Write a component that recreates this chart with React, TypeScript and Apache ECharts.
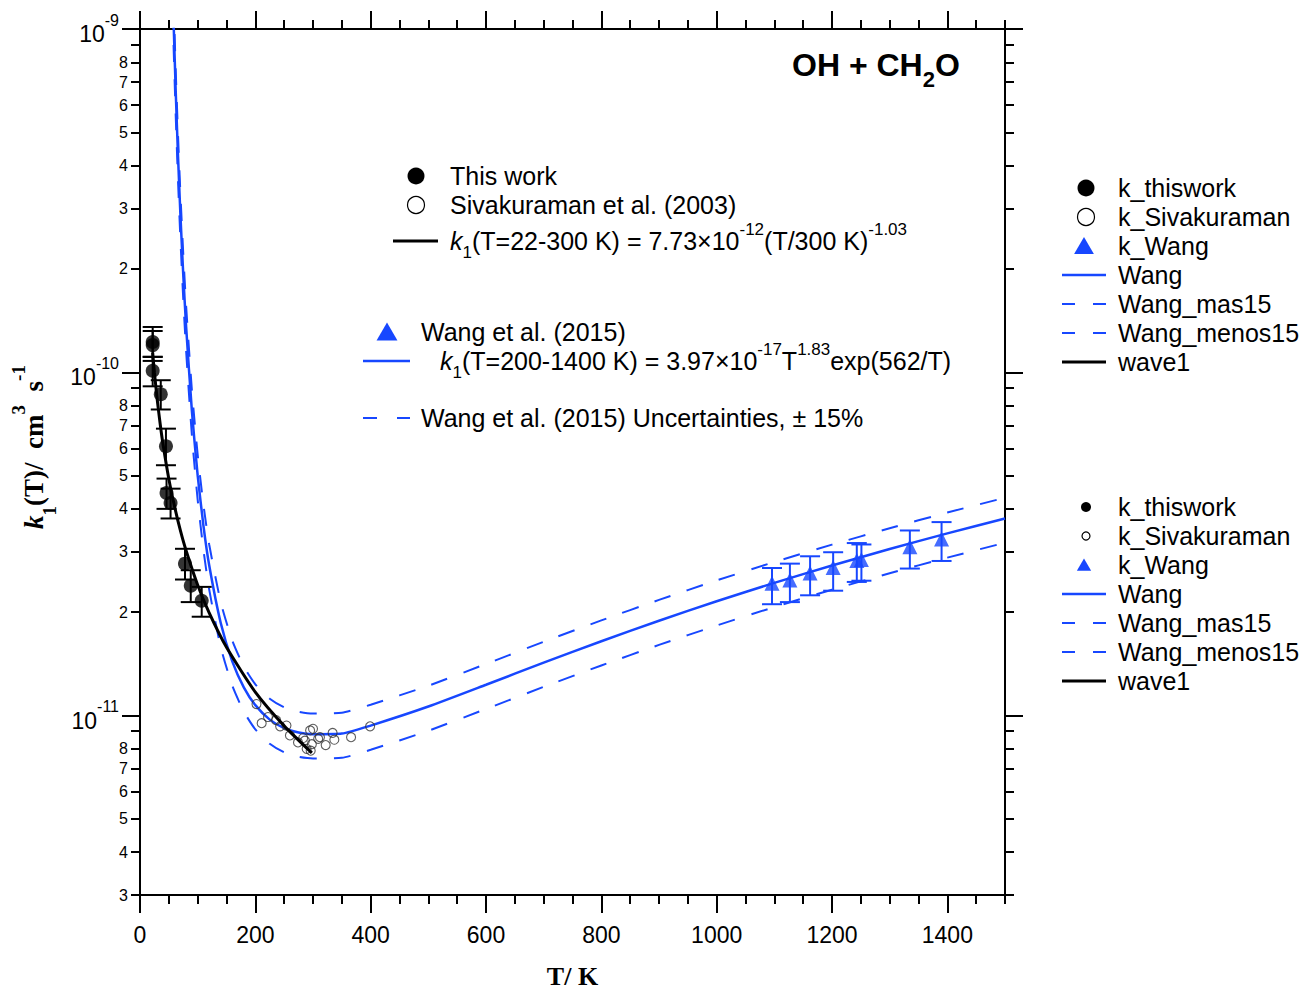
import React, { useEffect, useRef } from 'react';
import * as echarts from 'echarts';

const FONT = '"Liberation Sans", Arial, Helvetica, sans-serif';
const SERIF = '"Liberation Serif", "Times New Roman", serif';
const BLUE = '#1747ff';

// ---- data ----
// This work (filled circles) with error bars
const thisWorkT = [22, 22, 22, 36, 45, 46, 53, 78, 88, 107];
const thisWorkK = [1.225e-10, 1.2e-10, 1.01e-10, 8.63e-11, 6.09e-11, 4.45e-11, 4.16e-11, 2.77e-11, 2.39e-11, 2.16e-11];
const thisWorkHi = [1.355e-10, 1.319e-10, 1.11e-10, 9.48e-11, 6.85e-11, 4.9e-11, 4.58e-11, 3.06e-11, 2.65e-11, 2.37e-11];
const thisWorkLo = [1.108e-10, 1.079e-10, 9.1e-11, 7.79e-11, 5.36e-11, 4.0e-11, 3.75e-11, 2.49e-11, 2.14e-11, 1.94e-11];

// Sivakuraman et al. (2003) (open circles)
const sivaT = [202, 211, 222, 236, 243, 254, 260, 274, 283, 286, 289, 295, 296, 298, 300, 309, 312, 322, 334, 337, 366, 399];
const sivaK = [1.08e-11, 9.5e-12, 9.9e-12, 9.7e-12, 9.3e-12, 9.35e-12, 8.75e-12, 8.35e-12, 8.6e-12, 8.45e-12, 8.0e-12, 9.05e-12, 7.9e-12, 8.25e-12, 9.15e-12, 8.55e-12, 8.65e-12, 8.2e-12, 8.9e-12, 8.5e-12, 8.65e-12, 9.3e-12];

// Wang et al. (2015) (triangles) with error bars
const wangPtT = [1096, 1127, 1162, 1202, 1243, 1251, 1335, 1390];
const wangPtK = [2.43e-11, 2.48e-11, 2.6e-11, 2.7e-11, 2.83e-11, 2.85e-11, 3.1e-11, 3.27e-11];
const wangPtHi = [2.69e-11, 2.77e-11, 2.91e-11, 2.99e-11, 3.18e-11, 3.15e-11, 3.46e-11, 3.66e-11];
const wangPtLo = [2.11e-11, 2.14e-11, 2.24e-11, 2.31e-11, 2.45e-11, 2.47e-11, 2.68e-11, 2.82e-11];

// Wang curve and +/-15% curves
const wangT = [55, 58, 62, 66, 70, 75, 80, 90, 100, 110, 120, 140, 160, 180, 200, 225, 250, 275, 300, 350, 400, 500, 600, 700, 800, 900, 1000, 1100, 1200, 1300, 1400, 1500];
const wangK = [1.665e-9, 1.082e-9, 6.539e-10, 4.233e-10, 2.898e-10, 1.925e-10, 1.356e-10, 7.709e-11, 5.006e-11, 3.576e-11, 2.739e-11, 1.86e-11, 1.438e-11, 1.208e-11, 1.072e-11, 9.729e-12, 9.19e-12, 8.919e-12, 8.821e-12, 8.86e-12, 9.348e-12, 1.062e-11, 1.229e-11, 1.426e-11, 1.646e-11, 1.889e-11, 2.152e-11, 2.435e-11, 2.736e-11, 3.055e-11, 3.393e-11, 3.748e-11];
const wangMas15 = [1.915e-9, 1.244e-9, 7.52e-10, 4.868e-10, 3.333e-10, 2.214e-10, 1.559e-10, 8.865e-11, 5.757e-11, 4.112e-11, 3.15e-11, 2.139e-11, 1.654e-11, 1.389e-11, 1.233e-11, 1.119e-11, 1.057e-11, 1.026e-11, 1.014e-11, 1.019e-11, 1.075e-11, 1.221e-11, 1.413e-11, 1.64e-11, 1.893e-11, 2.172e-11, 2.475e-11, 2.8e-11, 3.146e-11, 3.513e-11, 3.902e-11, 4.31e-11];
const wangMenos15 = [1.415e-9, 9.197e-10, 5.558e-10, 3.598e-10, 2.463e-10, 1.636e-10, 1.153e-10, 6.553e-11, 4.255e-11, 3.04e-11, 2.328e-11, 1.581e-11, 1.222e-11, 1.027e-11, 9.112e-12, 8.27e-12, 7.812e-12, 7.581e-12, 7.498e-12, 7.531e-12, 7.946e-12, 9.027e-12, 1.045e-11, 1.212e-11, 1.399e-11, 1.606e-11, 1.829e-11, 2.07e-11, 2.326e-11, 2.597e-11, 2.884e-11, 3.186e-11];

// wave1 (black fit line)
const wave1T = [22, 25, 30, 35, 40, 50, 60, 70, 80, 100, 120, 150, 200, 250, 298];
const wave1K = [1.14e-10, 9.99e-11, 8.29e-11, 7.07e-11, 6.16e-11, 4.89e-11, 4.06e-11, 3.46e-11, 3.02e-11, 2.4e-11, 1.99e-11, 1.58e-11, 1.17e-11, 9.33e-12, 7.78e-12];

// axis ticks
const xMajorTicks = [0, 200, 400, 600, 800, 1000, 1200, 1400];
const yDecades = [-12, -11, -10];
const yMantissas = [2, 3, 4, 5, 6, 7, 8, 9];
const yMajorTicks = [1e-11, 1e-10, 1e-9];
const Y_MIN = 3e-12;
const Y_MAX = 1e-9;

const seriesNames = ['k_thiswork', 'k_Sivakuraman', 'k_Wang', 'Wang', 'Wang_mas15', 'Wang_menos15', 'wave1'];

const yMinorTicks: number[] = [];
yDecades.forEach((e) => yMantissas.forEach((m) => {
  const v = parseFloat(`${m}e${e}`);
  if (v >= Y_MIN && v < Y_MAX) yMinorTicks.push(v);
}));
const yMinorLabelTicks = yMinorTicks.filter((v) => Math.round(v / Math.pow(10, Math.floor(Math.log10(v) + 1e-9))) !== 9);

const zip = (a: number[], b: number[]) => a.map((x, i) => [x, b[i]]);

function errorBarSeries(T: number[], lo: number[], hi: number[], color: string, z: number) {
  return {
    type: 'custom',
    xAxisIndex: 0,
    yAxisIndex: 0,
    silent: true,
    z,
    data: T.map((t, i) => [t, lo[i], hi[i]]),
    encode: { x: 0, y: [1, 2] },
    renderItem: (params: any, api: any) => {
      const x = api.value(0);
      const a = api.coord([x, api.value(2)]);
      const b = api.coord([x, api.value(1)]);
      const w = 10;
      const st = { stroke: color, lineWidth: 2 };
      return {
        type: 'group',
        children: [
          { type: 'line', shape: { x1: a[0], y1: a[1], x2: b[0], y2: b[1] }, style: st },
          { type: 'line', shape: { x1: a[0] - w, y1: a[1], x2: a[0] + w, y2: a[1] }, style: st },
          { type: 'line', shape: { x1: b[0] - w, y1: b[1], x2: b[0] + w, y2: b[1] }, style: st },
        ],
      };
    },
  };
}

// ---- graphic helpers (legends) ----
const dot = (x: number, y: number, r: number, filled: boolean) => ({
  type: 'circle', z: 20, silent: true,
  shape: { cx: x, cy: y, r },
  style: filled ? { fill: '#000' } : { fill: '#fff', stroke: '#000', lineWidth: 1.2 },
});
const tri = (x: number, y: number, s: number) => ({
  type: 'polygon', z: 20, silent: true,
  shape: { points: [[x, y - s * 0.5], [x - s * 0.55, y + s * 0.45], [x + s * 0.55, y + s * 0.45]] },
  style: { fill: BLUE },
});
const seg = (x1: number, x2: number, y: number, color: string, w: number) => ({
  type: 'line', z: 20, silent: true,
  shape: { x1, y1: y, x2, y2: y },
  style: { stroke: color, lineWidth: w },
});
const txt = (x: number, y: number, text: string, size: number, rich?: any) => ({
  type: 'text', z: 20, silent: true, x, y,
  style: {
    text, fontSize: size, fontFamily: FONT, fill: '#000',
    align: 'left', verticalAlign: 'middle', textAlign: 'left', textVerticalAlign: 'middle',
    rich,
  },
});

const formulaRich = {
  n: { fontSize: 25, fontFamily: FONT, color: '#000', lineHeight: 40, verticalAlign: 'middle' },
  i: { fontSize: 25, fontFamily: FONT, fontStyle: 'italic', color: '#000', lineHeight: 40, verticalAlign: 'middle' },
  sup: { fontSize: 17, fontFamily: FONT, color: '#000', lineHeight: 14, verticalAlign: 'top' },
  sub: { fontSize: 17, fontFamily: FONT, color: '#000', lineHeight: 24, verticalAlign: 'bottom' },
};

function rightLegend(rows: number[], small: boolean) {
  const els: any[] = [];
  const sx = 1084;
  els.push(dot(sx + 2, rows[0], small ? 5 : 8.5, true));
  els.push(dot(sx + 2, rows[1], small ? 4 : 8.5, false));
  els.push(tri(sx, rows[2], small ? 13 : 18));
  els.push(seg(1062, 1106, rows[3], BLUE, 2.5));
  els.push(seg(1062, 1075, rows[4], BLUE, 2));
  els.push(seg(1093, 1106, rows[4], BLUE, 2));
  els.push(seg(1062, 1075, rows[5], BLUE, 2));
  els.push(seg(1093, 1106, rows[5], BLUE, 2));
  els.push(seg(1062, 1106, rows[6], '#000', 3));
  seriesNames.forEach((n, i) => els.push(txt(1118, rows[i], n, 25)));
  return els;
}

const graphicEls: any[] = [
  // inner legend, upper block
  dot(416, 176, 8.5, true),
  txt(450, 176, 'This work', 25),
  dot(416, 205, 8.5, false),
  txt(450, 205, 'Sivakuraman et al. (2003)', 25),
  seg(393, 438, 241, '#000', 3),
  txt(450, 241, '{i|k}{sub|1}{n|(T=22-300 K) = 7.73×10}{sup|-12}{n|(T/300 K)}{sup|-1.03}', 25, formulaRich),
  // inner legend, Wang block
  tri(387, 332, 19),
  txt(421, 332, 'Wang et al. (2015)', 25),
  seg(363, 410, 361, BLUE, 2.5),
  txt(440, 361, '{i|k}{sub|1}{n|(T=200-1400 K) = 3.97×10}{sup|-17}{n|T}{sup|1.83}{n|exp(562/T)}', 25, formulaRich),
  seg(363, 377, 418, BLUE, 2),
  seg(397, 410, 418, BLUE, 2),
  txt(421, 418, 'Wang et al. (2015) Uncertainties, ± 15%', 25),
  ...rightLegend([188, 217, 246, 275, 304, 333, 362], false),
  ...rightLegend([507, 536, 565, 594, 623, 652, 681], true),
];

const axisLineStyle = { color: '#000', width: 2 };

const xBase = {
  type: 'value', min: 0, max: 1500,
  splitLine: { show: false },
  minorSplitLine: { show: false },
};
const yBase = {
  type: 'log', logBase: 10, min: Y_MIN, max: Y_MAX,
  splitLine: { show: false },
  minorSplitLine: { show: false },
  minorTick: { show: false },
};

const option: any = {
  animation: false,
  backgroundColor: '#fff',
  title: {
    text: '{a|OH + CH}{s|2}{a|O}',
    left: 792,
    top: 40,
    padding: 0,
    textStyle: {
      rich: {
        a: { fontSize: 32, fontWeight: 'bold', fontFamily: FONT, color: '#000', lineHeight: 50, verticalAlign: 'middle' },
        s: { fontSize: 22, fontWeight: 'bold', fontFamily: FONT, color: '#000', lineHeight: 30, verticalAlign: 'bottom' },
      },
    },
  },
  grid: { left: 140, right: 299, top: 29, bottom: 96, containLabel: false, outerBoundsMode: 'none' },
  xAxis: [
    {
      ...xBase, position: 'bottom',
      axisLine: { show: true, onZero: false, lineStyle: axisLineStyle },
      axisTick: { show: true, inside: false, length: 18, lineStyle: axisLineStyle, customValues: xMajorTicks },
      axisLabel: {
        show: true, customValues: xMajorTicks, margin: 28, fontSize: 23, fontFamily: FONT, color: '#000',
        formatter: (v: number) => String(v),
      },
      name: 'T/ K', nameLocation: 'middle', nameGap: 69,
      nameTextStyle: { fontSize: 26, lineHeight: 24, fontWeight: 'bold', fontFamily: SERIF, color: '#000' },
    },
    {
      ...xBase, position: 'bottom', interval: 50,
      axisLine: { show: false, onZero: false },
      axisTick: { show: true, inside: false, length: 9, lineStyle: axisLineStyle },
      axisLabel: { show: false },
    },
    {
      ...xBase, position: 'top',
      axisLine: { show: true, onZero: false, lineStyle: axisLineStyle },
      axisTick: { show: true, inside: false, length: 18, lineStyle: axisLineStyle, customValues: xMajorTicks },
      axisLabel: { show: false },
    },
    {
      ...xBase, position: 'top', interval: 50,
      axisLine: { show: false, onZero: false },
      axisTick: { show: true, inside: false, length: 9, lineStyle: axisLineStyle },
      axisLabel: { show: false },
    },
  ],
  yAxis: [
    {
      ...yBase, position: 'left',
      axisLine: { show: true, onZero: false, lineStyle: axisLineStyle },
      axisTick: { show: true, inside: false, length: 18, lineStyle: axisLineStyle, customValues: yMajorTicks },
      axisLabel: {
        show: true, customValues: yMajorTicks, margin: 21, padding: [10, 0, 0, 0],
        formatter: (v: number) => `{b|10}{e|${Math.round(Math.log10(v))}}`,
        rich: {
          b: { fontSize: 23, fontFamily: FONT, color: '#000', lineHeight: 44, verticalAlign: 'middle' },
          e: { fontSize: 16, fontFamily: FONT, color: '#000', lineHeight: 14, verticalAlign: 'top' },
        },
      },
      name: '{i|k}{sub|1}{b|(T)/  cm}{sup|3}{b|  s}{sup|-1}',
      nameLocation: 'middle', nameRotate: 90, nameGap: 78,
      nameTextStyle: {
        padding: [0, 0, 0, 30],
        rich: {
          i: { fontSize: 27, fontWeight: 'bold', fontStyle: 'italic', fontFamily: SERIF, color: '#000', lineHeight: 50, verticalAlign: 'middle' },
          b: { fontSize: 27, fontWeight: 'bold', fontFamily: SERIF, color: '#000', lineHeight: 50, verticalAlign: 'middle' },
          sub: { fontSize: 19, fontWeight: 'bold', fontFamily: SERIF, color: '#000', lineHeight: 30, verticalAlign: 'bottom' },
          sup: { fontSize: 19, fontWeight: 'bold', fontFamily: SERIF, color: '#000', lineHeight: 16, verticalAlign: 'top' },
        },
      },
    },
    {
      ...yBase, position: 'left',
      axisLine: { show: false, onZero: false },
      axisTick: { show: true, inside: false, length: 9, lineStyle: axisLineStyle, customValues: yMinorTicks },
      axisLabel: {
        show: true, customValues: yMinorLabelTicks, margin: 12, fontSize: 16, fontFamily: FONT, color: '#000',
        formatter: (v: number) => String(Math.round(v / Math.pow(10, Math.floor(Math.log10(v) + 1e-9)))),
      },
    },
    {
      ...yBase, position: 'right',
      axisLine: { show: true, onZero: false, lineStyle: axisLineStyle },
      axisTick: { show: true, inside: false, length: 18, lineStyle: axisLineStyle, customValues: yMajorTicks },
      axisLabel: { show: false },
    },
    {
      ...yBase, position: 'right',
      axisLine: { show: false, onZero: false },
      axisTick: { show: true, inside: false, length: 9, lineStyle: axisLineStyle, customValues: yMinorTicks },
      axisLabel: { show: false },
    },
  ],
  graphic: graphicEls,
  series: [
    {
      name: 'Wang', type: 'line', xAxisIndex: 0, yAxisIndex: 0, data: zip(wangT, wangK),
      symbol: 'none', smooth: 0.2, clip: true, silent: true, z: 3,
      lineStyle: { color: BLUE, width: 2.5 },
    },
    {
      name: 'Wang_mas15', type: 'line', xAxisIndex: 0, yAxisIndex: 0, data: zip(wangT, wangMas15),
      symbol: 'none', smooth: 0.2, clip: true, silent: true, z: 3,
      lineStyle: { color: BLUE, width: 2, type: [17, 17] },
    },
    {
      name: 'Wang_menos15', type: 'line', xAxisIndex: 0, yAxisIndex: 0, data: zip(wangT, wangMenos15),
      symbol: 'none', smooth: 0.2, clip: true, silent: true, z: 3,
      lineStyle: { color: BLUE, width: 2, type: [17, 17] },
    },
    {
      name: 'k_Sivakuraman', type: 'scatter', xAxisIndex: 0, yAxisIndex: 0, data: zip(sivaT, sivaK),
      symbol: 'circle', symbolSize: 9, silent: true, z: 4,
      itemStyle: { color: 'rgba(0,0,0,0)', borderColor: '#333', borderWidth: 1.1 },
    },
    {
      name: 'wave1', type: 'line', xAxisIndex: 0, yAxisIndex: 0, data: zip(wave1T, wave1K),
      symbol: 'none', smooth: 0.2, clip: true, silent: true, z: 5,
      lineStyle: { color: '#000', width: 3 },
    },
    errorBarSeries(thisWorkT, thisWorkLo, thisWorkHi, '#000', 5),
    {
      name: 'k_thiswork', type: 'scatter', xAxisIndex: 0, yAxisIndex: 0, data: zip(thisWorkT, thisWorkK),
      symbol: 'circle', symbolSize: 14, silent: true, z: 6,
      itemStyle: { color: '#000' },
    },
    errorBarSeries(wangPtT, wangPtLo, wangPtHi, BLUE, 5),
    {
      name: 'k_Wang', type: 'scatter', xAxisIndex: 0, yAxisIndex: 0, data: zip(wangPtT, wangPtK),
      symbol: 'triangle', symbolSize: 15, silent: true, z: 6,
      itemStyle: { color: BLUE },
    },
  ],
};

export default function App() {
  const ref = useRef<HTMLDivElement>(null);
  useEffect(() => {
    if (!ref.current) return;
    const chart = echarts.init(ref.current, null, { renderer: 'svg' });
    chart.setOption(option);
    return () => chart.dispose();
  }, []);
  return (
    <div
      ref={ref}
      style={{ position: 'fixed', left: 0, top: 0, width: 1304, height: 991, background: '#fff' }}
    />
  );
}
